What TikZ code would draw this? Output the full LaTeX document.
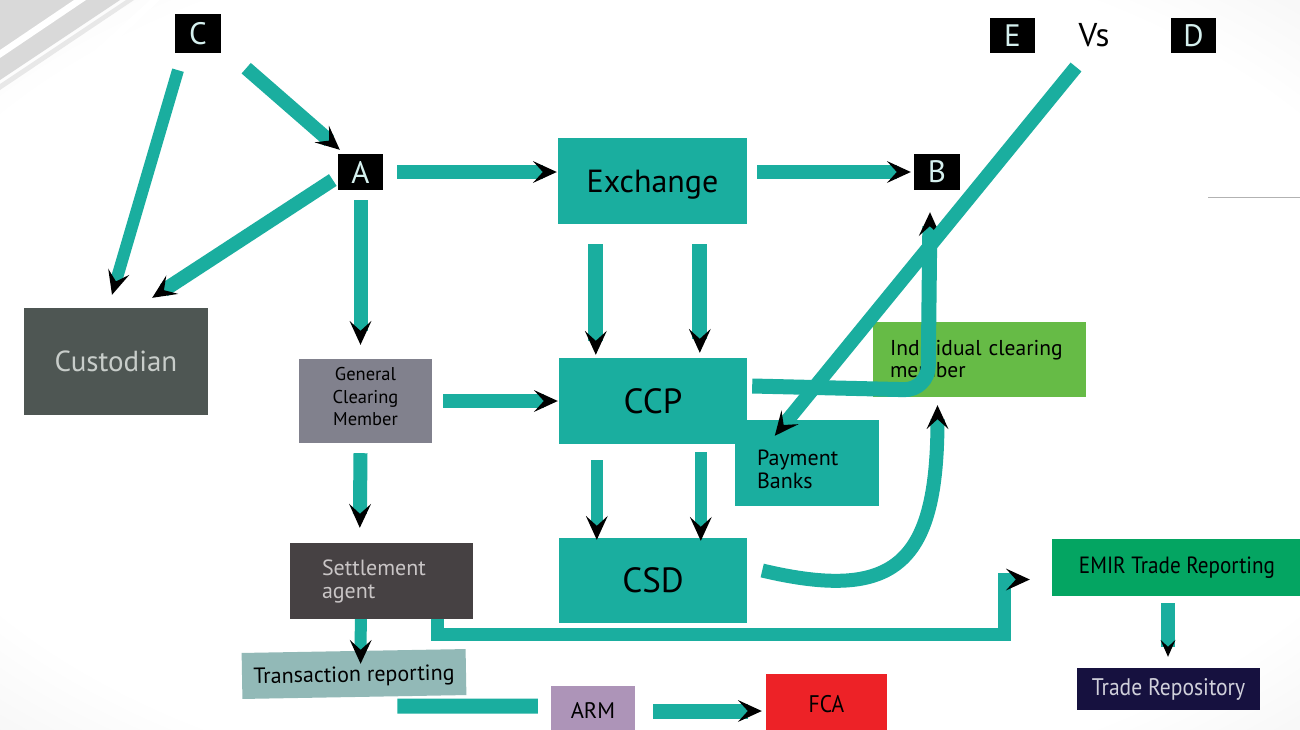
\documentclass[tikz,border=0pt]{standalone}
\usepackage{fontspec}
\setmainfont{PT Sans}
\newfontfamily\narrowfont[FakeStretch=0.9]{PT Sans}
\usetikzlibrary{arrows.meta,calc}
\definecolor{tealc}{HTML}{1AAE9F}
\definecolor{lettc}{HTML}{D5F0EE}
\definecolor{icmc}{HTML}{66BB46}
\definecolor{gcmc}{HTML}{81818D}
\definecolor{custc}{HTML}{4E5653}
\definecolor{custt}{HTML}{C8CDCA}
\definecolor{sac}{HTML}{464143}
\definecolor{sat}{HTML}{C9C5C6}
\definecolor{trc}{HTML}{92B9B7}
\definecolor{armc}{HTML}{AD94B8}
\definecolor{fcac}{HTML}{ED2227}
\definecolor{emirc}{HTML}{04A562}
\definecolor{trepc}{HTML}{16113F}
\definecolor{trept}{HTML}{D0D0DA}
\pgfdeclareradialshading{bgshade}{\pgfpoint{0bp}{0bp}}{color(0bp)=(white); color(30bp)=(white); color(50bp)=(gray!22); color(72bp)=(gray!34)}
\begin{document}
\begin{tikzpicture}[x=1pt,y=-1pt,
  conn/.style={draw=tealc,line width=14pt},
  arr/.style={-{Stealth[length=24pt,width=22pt,inset=10pt,line width=0pt,color=black]}},
  sarr/.style={-{Stealth[length=17pt,width=15pt,inset=7pt,line width=0pt,color=black]}},
  lbox/.style={fill=black,text=lettc,inner sep=0pt,font=\fontsize{31}{33}\selectfont},
  bx/.style={inner sep=0pt}]
\useasboundingbox (0,0) rectangle (1300,729);
\shade[shading=bgshade] (0,0) rectangle (1300,729);
% top-left streaks
\fill[gray!30] (0,0) -- (120,0) -- (0,80) -- cycle;
\fill[white] (0,50) -- (74,0) -- (86,0) -- (0,58) -- cycle;
\fill[white] (40,100) -- (150,0) -- (160,0) -- (47,107) -- cycle;
\fill[gray!18] (0,84) -- (126,0) -- (134,0) -- (0,90) -- cycle;
\draw[gray!60,line width=0.8pt] (1208,197) -- (1300,197);

% nodes
\node[lbox,minimum width=46pt,minimum height=39pt] (C) at (198,33.5) {C};
\node[lbox,minimum width=45pt,minimum height=36pt] (A) at (360.5,172) {A};
\node[lbox,minimum width=46pt,minimum height=36pt] (B) at (937,172) {B};
\node[lbox,minimum width=45pt,minimum height=35pt] (E) at (1012.5,35.5) {E};
\node[lbox,minimum width=45pt,minimum height=35pt] (D) at (1193.5,35.5) {D};
\node[font=\fontsize{33}{35}\selectfont,inner sep=0pt] (vs) at (1094,35) {Vs};

\node[bx,fill=tealc,minimum width=189pt,minimum height=86pt,text depth=0pt,font=\fontsize{32}{34}\selectfont] (ex) at (652.5,181) {Exchange};
\node[bx,fill=tealc,minimum width=188pt,minimum height=86pt,font=\fontsize{35}{37}\selectfont] (ccp) at (653,401) {CCP};
\node[bx,fill=tealc,minimum width=144pt,minimum height=86pt,
  label={[font=\fontsize{22}{23}\selectfont,text width=100pt,align=left,yshift=-6pt]center:{Payment\\Banks}}] (pb) at (807,463) {};
\node[bx,fill=tealc,minimum width=188pt,minimum height=85pt,font=\fontsize{35}{37}\selectfont] (csd) at (653,580.5) {CSD};
\node[bx,fill=icmc,minimum width=213pt,minimum height=75pt,text width=179pt,align=left,font=\fontsize{21.5}{22}\selectfont] (icm) at (979.5,359.5) {Individual clearing\\member};
\node[bx,fill=gcmc,minimum width=133pt,minimum height=84pt,
  label={[font=\fontsize{18.5}{22.5}\selectfont,align=center,yshift=4pt]center:{General\\Clearing\\Member}}] (gcm) at (365.5,401) {};
\node[bx,fill=custc,text=custt,minimum width=184pt,minimum height=107pt,font=\fontsize{29}{31}\selectfont] (cust) at (116,361.5) {Custodian};
\node[bx,fill=sac,text=sat,minimum width=183pt,minimum height=76pt,text width=119pt,align=left,font=\fontsize{22}{23}\selectfont] (sa) at (381.5,581) {Settlement\\agent};
\node[bx,fill=trc,minimum width=224pt,minimum height=46pt,rotate=1,text depth=0pt,font=\fontsize{22}{24}\selectfont] (tr) at (354,674) {Transaction reporting};
\node[bx,fill=armc,minimum width=84pt,minimum height=48pt,font=\fontsize{22.5}{24}\selectfont] (arm) at (593,710) {ARM};
\node[bx,fill=fcac,minimum width=121pt,minimum height=60pt,font=\narrowfont\fontsize{24}{26}\selectfont] (fca) at (826.5,704) {FCA};
\node[bx,fill=emirc,minimum width=250pt,minimum height=57pt,font=\narrowfont\fontsize{23.5}{25}\selectfont] (emir) at (1177,567.5) {EMIR Trade Reporting};
\node[bx,fill=trepc,text=trept,minimum width=183pt,minimum height=42pt,font=\narrowfont\fontsize{24}{26}\selectfont] (trep) at (1168.5,689) {Trade Repository};

% connectors
\draw[conn,line width=12pt,arr] ($(C.south)+(-20,17)$) -- ($(cust.north)+(-4,-13)$);
\draw[conn,arr] ($(C.south east)+(25,15)$) -- ($(A.north west)+(2,-4)$);
\draw[conn,arr] ($(A.west)+(-5,8)$) -- ($(cust.north east)+(-56,-10)$);
\draw[conn,arr,shorten <=14pt,shorten >=1pt] (A.east) -- (A.east -| ex.west);
\draw[conn,arr,shorten <=10pt,shorten >=3pt] (B.west -| ex.east) -- (B.west);
\draw[conn,arr,shorten <=10pt,shorten >=14pt] (A.south) -- (A.south |- gcm.north);
\draw[conn,line width=15pt,arr] ($(ex.south west)+(38,20)$) -- ($(ccp.north west)+(37,-3)$);
\draw[conn,line width=15pt,arr] ($(ex.south west)+(142,20)$) -- ($(ccp.north west)+(141,-5)$);
\draw[conn,arr,shorten <=11pt,shorten >=1pt] (gcm.east) -- (ccp.west);
\draw[conn,arr] ($(gcm.south)+(-5,10)$) -- ($(sa.north west)+(70,-15)$);
\draw[conn,line width=12pt,arr] ($(ccp.south west)+(38,16)$) -- ($(csd.north west)+(38,2)$);
\draw[conn,line width=12pt,arr] ($(ccp.south west)+(142,8)$) -- ($(csd.north west)+(142,3)$);
\draw[conn,line width=15pt,arr,rounded corners=24pt] ($(ccp.east)+(5,-15)$) -- ($(B.south)+(-9,200)$) -- ($(B.south)+(-7,22)$);
\draw[conn,arr] ($(vs)+(-18,32)$) -- ($(pb.north west)+(40,16)$);
\draw[conn,arr] ($(csd.east)+(15,-10)$) .. controls ($(csd.east)+(150,22)$) and ($(icm.south)+(-42,165)$) .. ($(icm.south)+(-42,8)$);
\draw[conn,line width=13pt,arr] ($(sa.south east)+(-36,0)$) |- ($(emir.west)+(-47,67)$) |- ($(emir.west)+(-22,12)$);
\draw[conn,line width=12pt,arr] ($(sa.south west)+(71,0)$) -- ($(tr.north)+(7,13)$);
\draw[conn,line width=15pt] ($(tr.south)+(43,9)$) -- ($(arm.west)+(-13,-4)$);
\draw[conn,line width=15pt,arr] ($(arm.east)+(18,1)$) -- ($(fca.west)+(-4,7)$);
\draw[conn,sarr] ($(emir.south)+(-9,7)$) -- ($(trep.north)+(-0.5,-11)$);
\end{tikzpicture}
\end{document}
